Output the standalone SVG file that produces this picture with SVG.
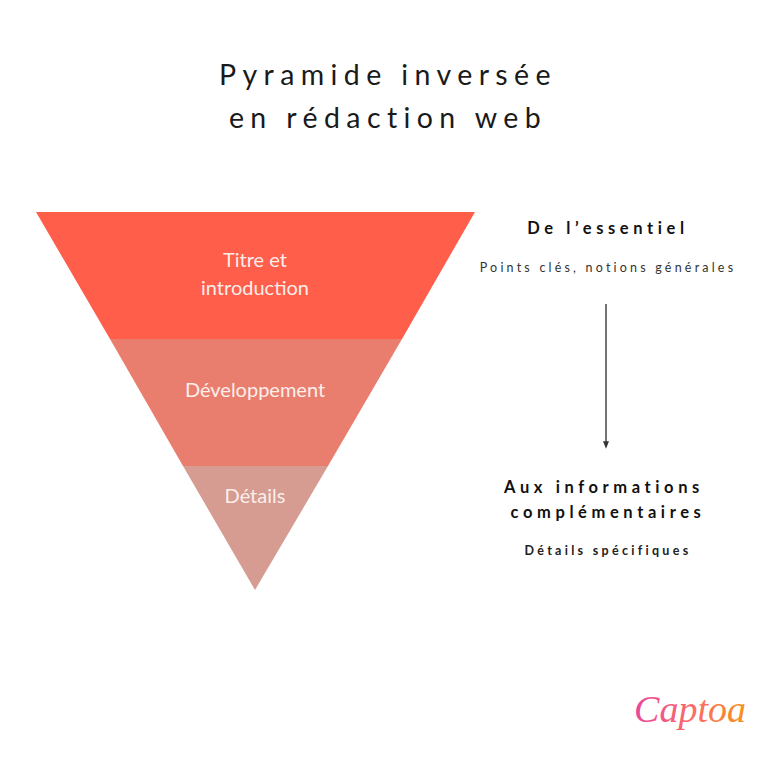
<svg xmlns="http://www.w3.org/2000/svg" width="768" height="768" viewBox="0 0 768 768">
<style>
.title{font-family:Lato,"Noto Sans",sans-serif;font-size:28.5px;font-weight:400;letter-spacing:6.4px;fill:#1a1a1a;text-anchor:middle}
.lbl{font-family:Lato,"Noto Sans",sans-serif;font-size:20px;fill:#fbeeea;text-anchor:middle}
.head{font-family:Lato,"Noto Sans",sans-serif;font-size:16.5px;font-weight:bold;letter-spacing:4.6px;fill:#111;text-anchor:middle}
.sub{font-family:Lato,"Noto Sans",sans-serif;font-size:12.5px;letter-spacing:3.2px;fill:#333;text-anchor:middle}
.subb{font-family:Lato,"Noto Sans",sans-serif;font-size:12.5px;font-weight:bold;letter-spacing:3.3px;fill:#222;text-anchor:middle}
</style>
<defs>
<marker id="ah" viewBox="0 0 10 10" refX="5" refY="5" markerWidth="5" markerHeight="5" orient="auto">
<path d="M0,1 L10,5 L0,9 z" fill="#333"/>
</marker>
<linearGradient id="lg" x1="0" y1="0" x2="1" y2="0">
<stop offset="0" stop-color="#e8479b"/>
<stop offset="0.5" stop-color="#f86a6a"/>
<stop offset="1" stop-color="#f7921e"/>
</linearGradient>
</defs>
<rect width="768" height="768" fill="#fff"/>
<g id="title">
<text class="title" x="388" y="85">Pyramide inversée</text>
<text class="title" x="388" y="128">en rédaction web</text>
</g>
<g id="level1">
<polygon points="36,212 475,212 402,339 110,339" fill="#ff5e4b"/>
<text class="lbl" x="255" y="267">Titre et</text>
<text class="lbl" x="255" y="295">introduction</text>
</g>
<g id="level2">
<polygon points="110,339 402,339 328,466 183,466" fill="#e97e6f"/>
<text class="lbl" x="255" y="397">Développement</text>
</g>
<g id="level3">
<polygon points="183,466 328,466 255,590" fill="#d69c92"/>
<text class="lbl" x="255" y="503">Détails</text>
</g>
<g id="top-text">
<text class="head" x="608" y="234">De l’essentiel</text>
<text class="sub" x="608" y="272">Points clés, notions générales</text>
</g>
<g id="connectors">
<line x1="606" y1="304" x2="606" y2="445" stroke="#444" stroke-width="1.5" marker-end="url(#ah)"/>
</g>
<g id="bottom-text">
<text class="head" x="604" y="493">Aux informations</text>
<text class="head" x="608" y="518">complémentaires</text>
<text class="subb" x="608" y="555">Détails spécifiques</text>
</g>
<g id="logo">
<text x="690" y="722" font-family="'Liberation Serif',serif" font-style="italic" font-size="38" fill="url(#lg)" text-anchor="middle">Captoa</text>
</g>
</svg>
